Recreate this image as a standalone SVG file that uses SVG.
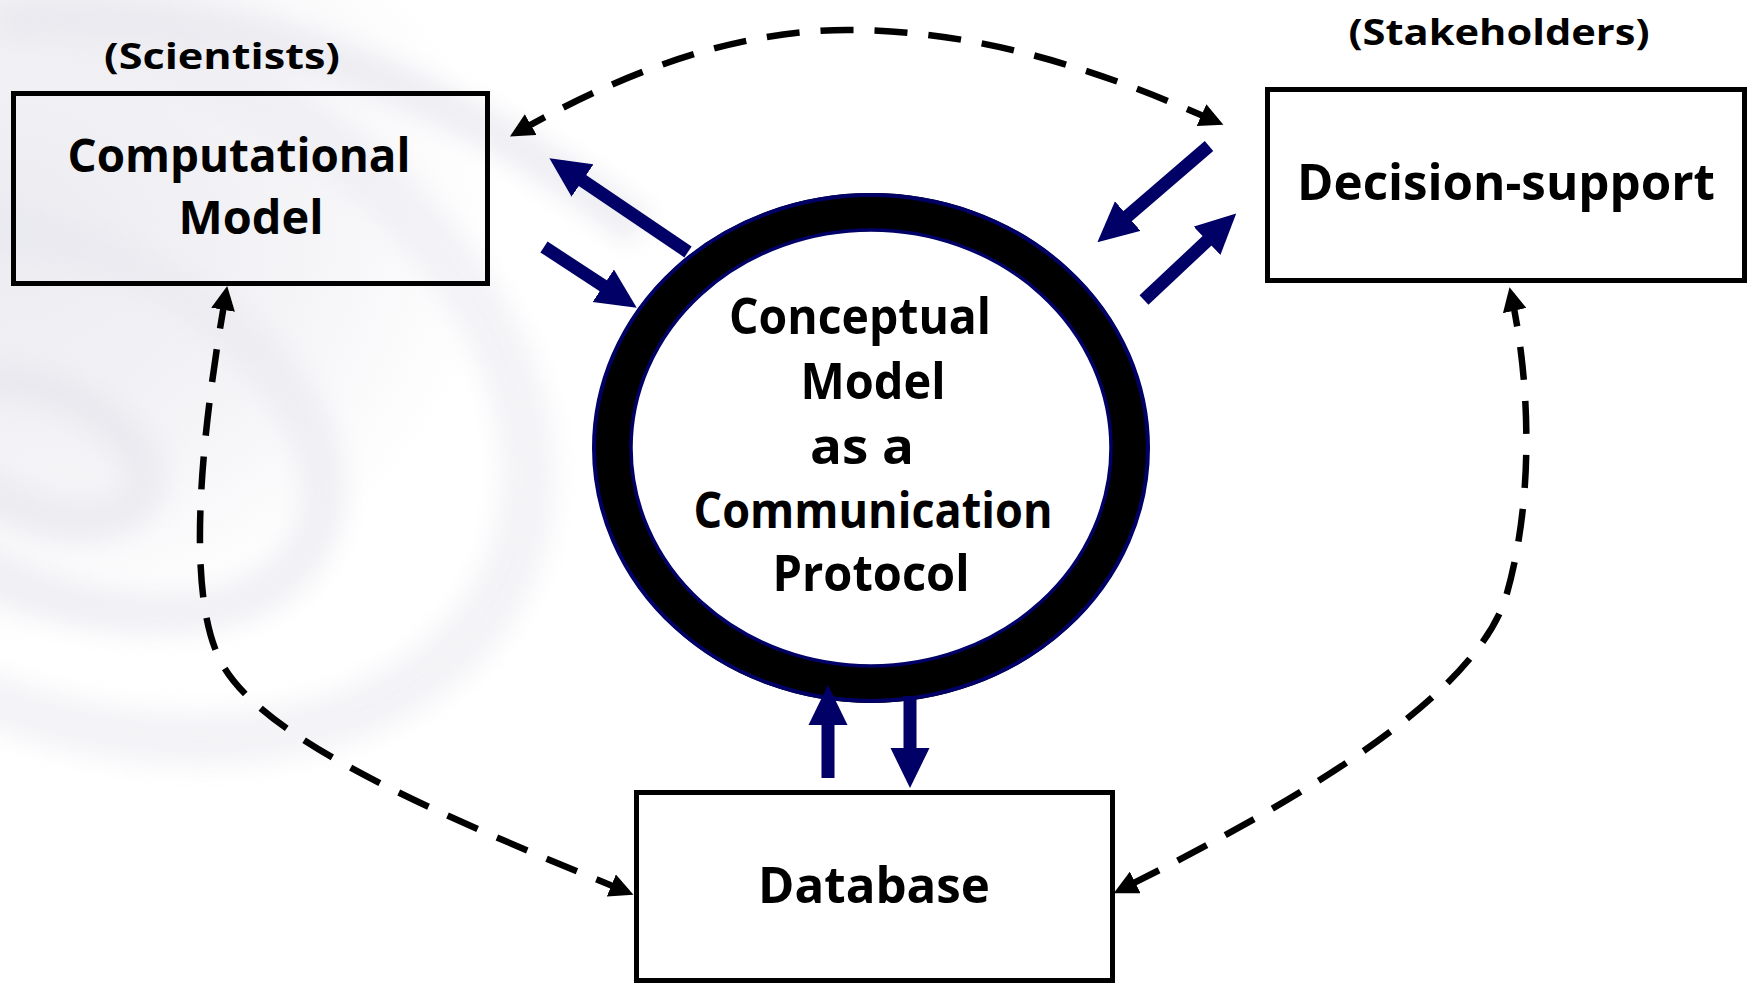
<svg xmlns="http://www.w3.org/2000/svg" width="1748" height="983" viewBox="0 0 1748 983">
  <defs>
    <style>
      .lbl { font-family: "Comic Sans MS", "Open Sans", "DejaVu Sans", sans-serif; font-weight: bold; fill: #000; text-anchor: middle; }
      .big { font-size: 50px; }
      .mid { font-size: 47px; }
      .small { font-size: 36px; }
      .box { fill: none; stroke: #000; stroke-width: 5; }
      .dash { fill: none; stroke: #000; stroke-width: 6.5; stroke-dasharray: 33 21; }
      .flow { stroke: #000066; stroke-width: 13; }
    </style>
    <marker id="headBlack" markerUnits="userSpaceOnUse" markerWidth="24" markerHeight="24" refX="17" refY="12" orient="auto-start-reverse" viewBox="0 0 24 24">
      <path d="M0,0 L24,12 L0,24 z" fill="#000"/>
    </marker>
    <marker id="headNavy" markerUnits="userSpaceOnUse" markerWidth="40" markerHeight="40" refX="26" refY="20" orient="auto" viewBox="0 0 40 40">
      <path d="M0,0.5 L40,20 L0,39.5 z" fill="#000066"/>
    </marker>
    <radialGradient id="haze" cx="0" cy="0.3" r="0.55">
      <stop offset="0" stop-color="#ebebf1"/>
      <stop offset="0.6" stop-color="#f4f4f7"/>
      <stop offset="1" stop-color="#ffffff"/>
    </radialGradient>
    <filter id="soft" x="-20%" y="-20%" width="140%" height="140%">
      <feGaussianBlur stdDeviation="12"/>
    </filter>
  </defs>

  <!-- page background with pale swirl bands at the upper left -->
  <rect width="1748" height="983" fill="#ffffff"/>
  <rect width="900" height="760" fill="url(#haze)"/>
  <g id="swirl" fill="none" filter="url(#soft)" opacity="0.6">
    <ellipse cx="40" cy="450" rx="110" ry="60" transform="rotate(22 40 450)" stroke="#e4e4ec" stroke-width="40"/>
    <ellipse cx="60" cy="420" rx="280" ry="170" transform="rotate(25 60 420)" stroke="#e8e8ef" stroke-width="45"/>
    <ellipse cx="80" cy="380" rx="470" ry="330" transform="rotate(25 80 380)" stroke="#ececf2" stroke-width="55"/>
    <path d="M0,20 C200,0 420,60 640,230" stroke="#e4e4ec" stroke-width="40"/>
  </g>

  <!-- connectors -->
  <g id="connectors">
    <!-- dashed two-way links -->
    <path class="dash" d="M516,133 C600,85 720,30 847,30 C980,30 1100,70 1217,122" marker-start="url(#headBlack)" marker-end="url(#headBlack)"/>
    <path class="dash" d="M627,892 C440,815 260,740 220,660 C190,600 195,470 226,293" marker-start="url(#headBlack)" marker-end="url(#headBlack)"/>
    <path class="dash" d="M1511,294 C1530,380 1535,500 1505,600 C1470,700 1300,800 1120,890" marker-start="url(#headBlack)" marker-end="url(#headBlack)"/>
  </g>

  <!-- central conceptual model ring -->
  <g id="conceptual-model">
    <ellipse cx="871" cy="448" rx="240" ry="218" fill="#ffffff"/>
    <ellipse cx="871" cy="448" rx="259" ry="236" fill="none" stroke="#000" stroke-width="38"/>
    <ellipse cx="871" cy="448" rx="277" ry="253" fill="none" stroke="#000066" stroke-width="4"/>
    <ellipse cx="871" cy="448" rx="240" ry="218" fill="none" stroke="#000066" stroke-width="3.5"/>
    <text class="lbl big" x="860" y="334" textLength="262" lengthAdjust="spacingAndGlyphs">Conceptual</text>
    <text class="lbl big" x="873" y="399" textLength="145" lengthAdjust="spacingAndGlyphs">Model</text>
    <text class="lbl big" x="862" y="464" textLength="104" lengthAdjust="spacingAndGlyphs">as a</text>
    <text class="lbl big" x="873" y="528" textLength="359" lengthAdjust="spacingAndGlyphs">Communication</text>
    <text class="lbl big" x="871" y="591" textLength="197" lengthAdjust="spacingAndGlyphs">Protocol</text>
  </g>

  <!-- solid navy exchange arrows -->
  <g id="exchange-arrows">
    <line class="flow" x1="688" y1="252" x2="561" y2="166" marker-end="url(#headNavy)"/>
    <line class="flow" x1="544" y1="247" x2="625" y2="300" marker-end="url(#headNavy)"/>
    <line class="flow" x1="1209" y1="146" x2="1108" y2="233" marker-end="url(#headNavy)"/>
    <line class="flow" x1="1144" y1="300" x2="1226" y2="223" marker-end="url(#headNavy)"/>
    <line class="flow" x1="828" y1="778" x2="828" y2="699" marker-end="url(#headNavy)"/>
    <line class="flow" x1="910" y1="696" x2="910" y2="774" marker-end="url(#headNavy)"/>
  </g>

  <g id="computational-model">
    <rect class="box" x="13.5" y="93.5" width="474" height="190"/>
    <text class="lbl small" x="222" y="69" textLength="236" lengthAdjust="spacingAndGlyphs">(Scientists)</text>
    <text class="lbl mid" x="239" y="172" textLength="343" lengthAdjust="spacingAndGlyphs">Computational</text>
    <text class="lbl mid" x="251" y="234" textLength="145" lengthAdjust="spacingAndGlyphs">Model</text>
  </g>

  <g id="decision-support">
    <rect class="box" x="1267.5" y="89.5" width="477" height="191"/>
    <text class="lbl small" x="1499" y="45" textLength="301" lengthAdjust="spacingAndGlyphs">(Stakeholders)</text>
    <text class="lbl big" x="1506" y="200" textLength="418" lengthAdjust="spacingAndGlyphs">Decision-support</text>
  </g>

  <g id="database">
    <rect class="box" x="636.5" y="792.5" width="476" height="188"/>
    <text class="lbl big" x="874" y="903" textLength="232" lengthAdjust="spacingAndGlyphs">Database</text>
  </g>
</svg>
